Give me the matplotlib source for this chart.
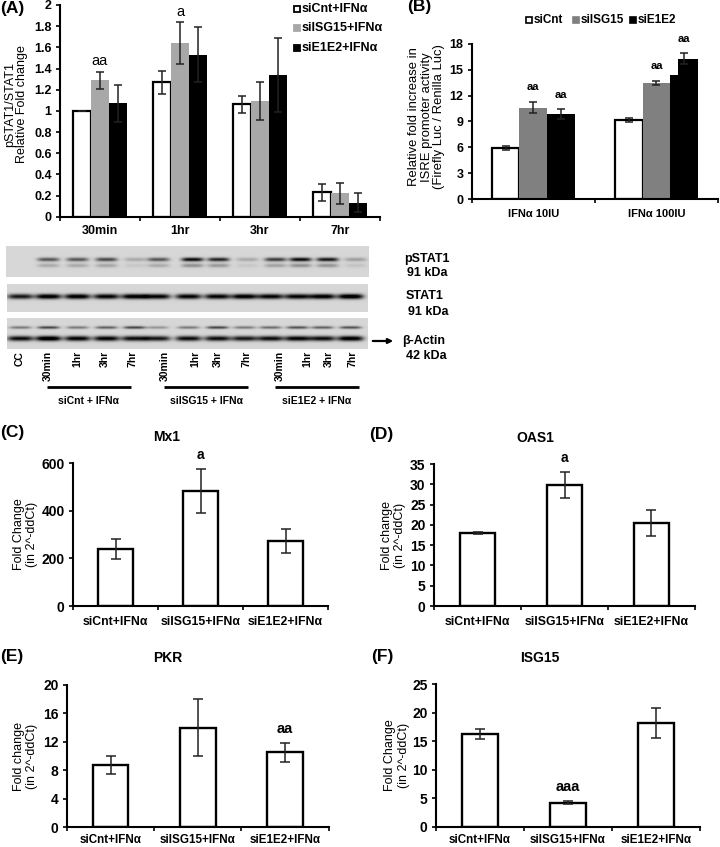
import numpy as np
import matplotlib
matplotlib.use('Agg')
import matplotlib.pyplot as plt

plt.rcParams['font.family'] = ['Liberation Sans', 'DejaVu Sans']
plt.rcParams['font.weight'] = 'bold'
plt.rcParams['font.size'] = 8

W, H = 720, 847

# panel A
a_groups = ['30min', '1hr', '3hr', '7hr']
a_cnt = [1.0, 1.27, 1.06, 0.23]
a_cnt_err = [0.0, 0.11, 0.085, 0.08]
a_isg = [1.29, 1.64, 1.09, 0.22]
a_isg_err = [0.08, 0.2, 0.18, 0.1]
a_e1 = [1.07, 1.53, 1.34, 0.13]
a_e1_err = [0.175, 0.26, 0.35, 0.09]

# panel B
b_groups = ['IFNα 10IU', 'IFNα 100IU']
b_cnt = [5.9, 9.2]
b_cnt_err = [0.25, 0.25]
b_isg = [10.6, 13.5]
b_isg_err = [0.65, 0.25]
b_e1 = [9.85, 16.3]
b_e1_err = [0.55, 0.6]
b_e1_step = 14.4  # left edge of the tall black bar is cut lower in the figure

# panels C-F
treatments = ['siCnt+IFNα', 'siISG15+IFNα', 'siE1E2+IFNα']
mx1 = [240, 483, 273]
mx1_err = [42, 92, 50]
oas1 = [18.0, 29.8, 20.5]
oas1_err = [0.3, 3.3, 3.2]
pkr = [8.7, 14.0, 10.5]
pkr_err = [1.3, 4.05, 1.35]
isg15 = [16.3, 4.2, 18.2]
isg15_err = [0.85, 0.3, 2.6]

# blots: lane centres in pixels and band strength per lane
lanes_p = [48, 77, 106, 135, 158, 192, 218, 247, 275, 300, 327, 355]
pstat_band = [0.5, 0.5, 0.55, 0.18, 0.5, 0.8, 0.7, 0.18, 0.6, 0.8, 0.75, 0.22]
lanes_s = [20, 48, 77, 106, 134, 157, 188, 217, 244, 270, 297, 322, 350]
stat_band = [0.75, 0.9, 0.9, 0.85, 0.9, 0.85, 0.85, 0.85, 0.9, 0.85, 0.85, 0.9, 0.95]
actin_top = [0.35, 0.55, 0.35, 0.45, 0.55, 0.25, 0.35, 0.55, 0.35, 0.4, 0.5, 0.45, 0.5]
actin_low = [0.8, 0.95, 0.85, 0.85, 0.8, 0.75, 0.8, 0.8, 0.75, 0.8, 0.85, 0.8, 0.9]
lane_labels = ['CC', '30min', '1hr', '3hr', '7hr', '30min', '1hr', '3hr', '7hr',
               '30min', '1hr', '3hr', '7hr']
lane_label_x = [20, 48, 77, 105, 133, 165, 195, 218, 247, 280, 307, 329, 353]


def make_axes(fig, left, right, top, bottom):
    return fig.add_axes([left / W, 1 - bottom / H, (right - left) / W, (bottom - top) / H])


def style_axes(ax, n, names, ymax, ticks, ticklabels, ticksize, labsize, labpad):
    ax.set_xlim(0, n)
    ax.set_ylim(0, ymax)
    ax.spines[['top', 'right']].set_visible(False)
    ax.spines[['left', 'bottom']].set_linewidth(1.5)
    ax.set_yticks(ticks, ticklabels)
    ax.set_xticks(range(n + 1), [''] * (n + 1))
    ax.set_xticks(np.arange(n) + 0.5, names, minor=True)
    ax.tick_params(axis='both', which='major', length=3, width=1.2, labelsize=ticksize, pad=3)
    ax.tick_params(axis='x', which='minor', length=0, labelsize=labsize, pad=labpad)
    ax.patch.set_alpha(0)


def single_panel(fig, box, values, errs, ymax, ticks, ylabel, marks, label_x, mark_size=10, labsize=8.8, labpad=7):
    ax = make_axes(fig, *box)
    x = np.arange(3) + 0.5
    ax.bar(x, values, 0.41, color='white', edgecolor='black', linewidth=1.7,
           yerr=errs, error_kw=dict(ecolor='#222222', elinewidth=1.1, capsize=3.5, capthick=1.1))
    style_axes(ax, 3, treatments, ymax, ticks, [str(t) for t in ticks], 10, labsize, labpad)
    ax.set_ylabel(ylabel, fontsize=9, fontweight='normal', linespacing=1.15)
    ax.yaxis.set_label_coords(label_x, 0.5)
    for i, m in enumerate(marks):
        if m:
            ax.annotate(m, (x[i], values[i] + errs[i]), xytext=(0, 5), textcoords='offset points',
                        ha='center', va='bottom', fontsize=mark_size)
    return ax


def blot_image(shape, x0, lanes, rows, bg):
    # rows: (y position, band strength per lane, half width, thickness)
    h, w = shape
    yy, xx = np.mgrid[0:h, 0:w]
    dark = np.zeros(shape)
    for yc, strength, half, thick in rows:
        for lane, s in zip(lanes, strength):
            dark += s * np.exp(-((xx + x0 - lane) / half) ** 4 - ((yy - yc) / thick) ** 2)
    return np.clip(bg - dark, 0, 1)


fig = plt.figure(figsize=(W / 100, H / 100), dpi=100)

# A
ax = make_axes(fig, 60, 380, 5, 216.7)
xa = np.arange(4) + 0.5
ebar = dict(ecolor='#222222', elinewidth=1.1, capsize=3, capthick=1.1)
ax.bar(xa - 0.225, a_cnt, 0.225, color='white', edgecolor='black', linewidth=1.6, yerr=a_cnt_err, error_kw=ebar)
ax.bar(xa, a_isg, 0.225, color='#a8a8a8', yerr=a_isg_err, error_kw=ebar)
ax.bar(xa + 0.225, a_e1, 0.225, color='black', yerr=a_e1_err, error_kw=ebar)
a_ticks = [0, 0.2, 0.4, 0.6, 0.8, 1, 1.2, 1.4, 1.6, 1.8, 2]
style_axes(ax, 4, a_groups, 2, a_ticks, ['0', '0.2', '0.4', '0.6', '0.8', '1', '1.2', '1.4', '1.6', '1.8', '2'],
           9, 9, 6)
ax.set_ylabel('pSTAT1/STAT1\nRelative Fold change', fontsize=9, fontweight='normal', linespacing=1.0)
ax.yaxis.set_label_coords(-0.1, 0.53)
ax.annotate('aa', (xa[0], a_isg[0] + a_isg_err[0]), xytext=(0, 3), textcoords='offset points',
            ha='center', va='bottom', fontsize=10.5, fontweight='normal')
ax.annotate('a', (xa[1], a_isg[1] + a_isg_err[1]), xytext=(0, 2), textcoords='offset points',
            ha='center', va='bottom', fontsize=10.5, fontweight='normal', annotation_clip=False)

# B
ax = make_axes(fig, 471.7, 718, 44, 199)
xb = np.arange(2) + 0.5
ax.bar(xb - 0.224, b_cnt, 0.224, color='white', edgecolor='black', linewidth=1.6, yerr=b_cnt_err, error_kw=ebar)
ax.bar(xb, b_isg, 0.224, color='#808080', yerr=b_isg_err, error_kw=ebar)
ax.bar(xb + 0.224, b_e1, 0.224, color='black', yerr=b_e1_err, error_kw=ebar)
ax.bar(xb[1] + 0.224 - 0.112 + 0.03, b_e1[1] - b_e1_step + 0.1, 0.06, bottom=b_e1_step, color='white')
b_ticks = [0, 3, 6, 9, 12, 15, 18]
style_axes(ax, 2, b_groups, 18, b_ticks, [str(t) for t in b_ticks], 9, 8, 7)
ax.set_ylabel('Relative fold increase in\nISRE promoter activity\n(Firefly Luc / Renilla Luc)',
              fontsize=9.4, fontweight='normal', linespacing=1.05)
ax.yaxis.set_label_coords(-0.108, 0.53)
for xpos, val, err in [(xb[0], b_isg[0], b_isg_err[0]), (xb[0] + 0.224, b_e1[0], b_e1_err[0]),
                       (xb[1], b_isg[1], b_isg_err[1]), (xb[1] + 0.224, b_e1[1], b_e1_err[1])]:
    ax.annotate('aa', (xpos, val + err), xytext=(0, 7), textcoords='offset points',
                ha='center', va='bottom', fontsize=8, annotation_clip=False)

# C-F
single_panel(fig, (73, 328, 463, 606), mx1, mx1_err, 600, [0, 200, 400, 600],
             'Fold Change\n(in 2^-ddCt)', ['', 'a', ''], -0.137)
single_panel(fig, (434, 695, 464, 606), oas1, oas1_err, 35, [0, 5, 10, 15, 20, 25, 30, 35],
             'Fold change\n(in 2^-ddCt)', ['', 'a', ''], -0.107)
single_panel(fig, (67, 328.6, 685, 827), pkr, pkr_err, 20, [0, 4, 8, 12, 16, 20],
             'Fold change\n(in 2^-ddCt)', ['', '', 'aa'], -0.11, 10.5, 8.4, 5)
single_panel(fig, (436, 700, 684, 826.7), isg15, isg15_err, 25, [0, 5, 10, 15, 20, 25],
             'Fold Change\n(in 2^-ddCt)', ['', 'aaa', ''], -0.1, 10.5, 8.4, 5)

# overlay in pixel coordinates for blots and loose text
ov = fig.add_axes([0, 0, 1, 1])
ov.set_xlim(0, W)
ov.set_ylim(H, 0)
ov.axis('off')
ov.patch.set_alpha(0)

img1 = blot_image((31, 363), 6, lanes_p, [(13, pstat_band, 11, 2.0), (19, [s * 0.35 for s in pstat_band], 11, 2.0)], 0.84)
img2 = blot_image((28, 361), 7, lanes_s, [(12, stat_band, 13, 2.6)], 0.84)
img3 = blot_image((31, 361), 7, lanes_s, [(9, actin_top, 11, 1.5), (20, actin_low, 13, 2.6)], 0.84)
ov.imshow(img1, cmap='gray', vmin=0, vmax=1, extent=(6, 369, 277, 246), aspect='auto')
ov.imshow(img2, cmap='gray', vmin=0, vmax=1, extent=(7, 368, 312, 284), aspect='auto')
ov.imshow(img3, cmap='gray', vmin=0, vmax=1, extent=(7, 368, 349, 318), aspect='auto')
ov.set_xlim(0, W)
ov.set_ylim(H, 0)

for name, xpos in zip(lane_labels, lane_label_x):
    ov.text(xpos, 351, name, rotation=90, ha='center', va='top', fontsize=7.5)
for x0, x1, name in [(47, 131, 'siCnt + IFNα'), (164, 248, 'siISG15 + IFNα'), (275, 359, 'siE1E2 + IFNα')]:
    ov.plot([x0, x1], [387, 387], color='black', lw=2, solid_capstyle='butt')
    ov.text((x0 + x1) / 2, 401, name, ha='center', va='center', fontsize=7.5)
ov.annotate('', xy=(396, 341), xytext=(370, 341), arrowprops=dict(arrowstyle='-|>', color='black', lw=1.6, mutation_scale=7))
for xpos, ypos, name in [(427, 259, 'pSTAT1'), (427, 273, '91 kDa'), (425, 296, 'STAT1'), (428, 312, '91 kDa'),
                         (424, 341, 'β-Actin'), (426, 356, '42 kDa')]:
    ov.text(xpos, ypos, name, ha='center', va='center', fontsize=9)

# legends
for ypos, name, fc in [(9, 'siCnt+IFNα', 'white'), (28, 'siISG15+IFNα', '#a8a8a8'), (48, 'siE1E2+IFNα', 'black')]:
    ov.plot([297], [ypos], marker='s', ms=5, mfc=fc, mec='black' if fc != '#a8a8a8' else fc, mew=1.3)
    ov.text(302, ypos, name, ha='left', va='center', fontsize=9)
for xpos, name, fc in [(529, 'siCnt', 'white'), (576, 'siISG15', '#808080'), (633, 'siE1E2', 'black')]:
    ov.plot([xpos], [20], marker='s', ms=5, mfc=fc, mec='black' if fc != '#808080' else fc, mew=1.2)
    ov.text(xpos + 5, 20, name, ha='left', va='center', fontsize=8.5)

# panel letters and gene titles
for xpos, ypos, name in [(0, 8, '(A)'), (407, 7, '(B)'), (0, 433, '(C)'), (369, 434, '(D)'), (0, 657, '(E)'), (371, 657, '(F)')]:
    ov.text(xpos, ypos, name, ha='left', va='center', fontsize=12.5)
for xpos, ypos, name in [(167, 437, 'Mx1'), (535, 438, 'OAS1'), (168, 658, 'PKR'), (540, 658, 'ISG15')]:
    ov.text(xpos, ypos, name, ha='center', va='center', fontsize=10)

fig.savefig('out.png', dpi=100)
